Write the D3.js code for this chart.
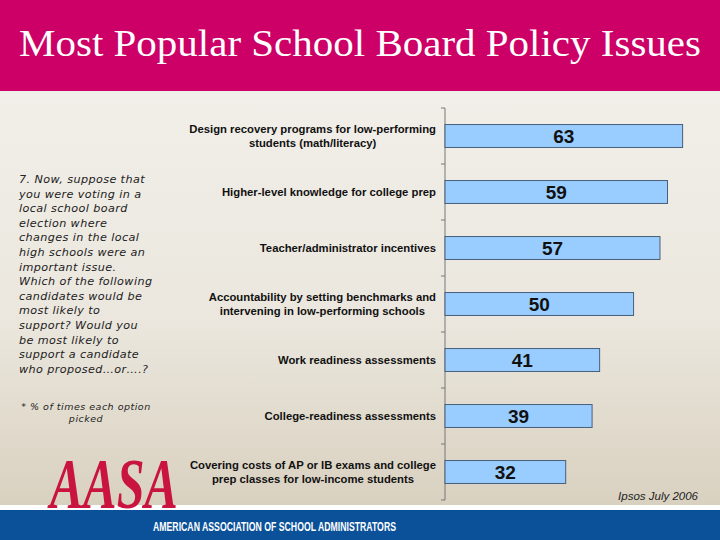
<!DOCTYPE html>
<html>
<head>
<meta charset="utf-8">
<script src="https://cdn.jsdelivr.net/npm/d3@7"></script>
<style>
  body { margin: 0; padding: 0; }
  svg { display: block; }
</style>
</head>
<body>
<div id="chart"></div>
<script>
var categories = [
  ["Design recovery programs for low-performing", "students (math/literacy)"],
  ["Higher-level knowledge for college prep"],
  ["Teacher/administrator incentives"],
  ["Accountability by setting benchmarks and", "intervening in low-performing schools"],
  ["Work readiness assessments"],
  ["College-readiness assessments"],
  ["Covering costs of AP or IB exams and college", "prep classes for low-income students"]
];
var values = [63, 59, 57, 50, 41, 39, 32];

var questionLines = [
  "7. Now, suppose that",
  "you were voting in a",
  "local school board",
  "election where",
  "changes in the local",
  "high schools were an",
  "important issue.",
  "Which of the following",
  "candidates would be",
  "most likely to",
  "support? Would you",
  "be most likely to",
  "support a candidate",
  "who proposed\u2026or\u2026.?"
];
var noteLines = ["* % of times each option", "picked"];

var W = 720, H = 540;
var svg = d3.select('#chart').append('svg')
  .attr('width', W).attr('height', H);

// background gradient
var defs = svg.append('defs');
var grad = defs.append('linearGradient').attr('id', 'bg')
  .attr('x1', 0).attr('y1', 0).attr('x2', 0).attr('y2', 1);
grad.append('stop').attr('offset', '0%').attr('stop-color', '#f1efe9');
grad.append('stop').attr('offset', '55%').attr('stop-color', '#ebe7de');
grad.append('stop').attr('offset', '100%').attr('stop-color', '#d9d1c0');

svg.append('rect').attr('x', 0).attr('y', 91).attr('width', W).attr('height', 414)
  .attr('fill', 'url(#bg)');
svg.append('rect').attr('x', 0).attr('y', 505).attr('width', W).attr('height', 5)
  .attr('fill', '#ffffff');
svg.append('rect').attr('x', 0).attr('y', 510).attr('width', W).attr('height', 30)
  .attr('fill', '#0b519a');

// title bar
svg.append('rect').attr('x', 0).attr('y', 0).attr('width', W).attr('height', 91)
  .attr('fill', '#cc0066');
svg.append('text')
  .attr('x', 19).attr('y', 56)
  .attr('font-family', '"Liberation Serif", "DejaVu Serif", serif')
  .attr('font-size', 37)
  .attr('fill', '#ffffff')
  .attr('textLength', 682)
  .attr('lengthAdjust', 'spacingAndGlyphs')
  .text('Most Popular School Board Policy Issues');

// scales
var x = d3.scaleLinear().domain([0, 70]).range([445, 709]);
var y = d3.scaleBand().domain(d3.range(values.length)).range([108, 500]).paddingInner(0.59).paddingOuter(0.295);

// axis line with ticks between categories
var axisG = svg.append('g');
axisG.append('line')
  .attr('x1', 445).attr('x2', 445).attr('y1', 108).attr('y2', 500)
  .attr('stroke', '#777').attr('stroke-width', 1);
var step = y.step();
var tickYs = d3.range(values.length + 1).map(function(i) { return 108 + i * step; });
axisG.selectAll('.tick').data(tickYs).enter().append('line')
  .attr('x1', 441).attr('x2', 445)
  .attr('y1', function(d) { return d; }).attr('y2', function(d) { return d; })
  .attr('stroke', '#777');

// bars
svg.selectAll('.bar').data(values).enter().append('rect')
  .attr('class', 'bar')
  .attr('x', x(0))
  .attr('y', function(d, i) { return y(i); })
  .attr('width', function(d) { return x(d) - x(0); })
  .attr('height', y.bandwidth())
  .attr('fill', '#99ccff')
  .attr('stroke', '#4a5f7a')
  .attr('stroke-width', 1);

svg.selectAll('.val').data(values).enter().append('text')
  .attr('x', function(d) { return (x(0) + x(d)) / 2; })
  .attr('y', function(d, i) { return y(i) + y.bandwidth() / 2 + 7; })
  .attr('text-anchor', 'middle')
  .attr('font-family', '"Liberation Sans", Arial, sans-serif')
  .attr('font-weight', 'bold')
  .attr('font-size', 19)
  .attr('fill', '#111')
  .text(function(d) { return d; });

// category labels
categories.forEach(function(lines, i) {
  var cy = y(i) + y.bandwidth() / 2;
  var t = svg.append('text')
    .attr('font-family', '"Liberation Sans", Arial, sans-serif')
    .attr('font-weight', 'bold')
    .attr('font-size', 11.3)
    .attr('fill', '#111');
  var spans = lines.map(function(l, j) {
    return t.append('tspan').attr('y', cy + 4 + (j - (lines.length - 1) / 2) * 13.5).text(l);
  });
  var maxW = d3.max(spans, function(s) { return s.node().getComputedTextLength(); });
  var cx = 436 - maxW / 2;
  spans.forEach(function(s) { s.attr('x', cx).attr('text-anchor', 'middle'); });
});

// question text
svg.append('g').selectAll('text').data(questionLines).enter().append('text')
  .attr('x', 19)
  .attr('y', function(d, i) { return 183 + i * 14.6; })
  .attr('font-family', '"DejaVu Sans", Verdana, sans-serif')
  .attr('font-style', 'italic')
  .attr('font-size', 11.2)
  .attr('letter-spacing', 0.4)
  .attr('fill', '#222')
  .text(function(d) { return d; });

svg.append('g').selectAll('text').data(noteLines).enter().append('text')
  .attr('x', 86)
  .attr('y', function(d, i) { return 410 + i * 12; })
  .attr('text-anchor', 'middle')
  .attr('font-family', '"DejaVu Sans", Verdana, sans-serif')
  .attr('font-style', 'italic')
  .attr('font-size', 9.5)
  .attr('letter-spacing', 0.5)
  .attr('fill', '#222')
  .text(function(d) { return d; });

// source
svg.append('text')
  .attr('x', 698).attr('y', 500)
  .attr('text-anchor', 'end')
  .attr('font-family', '"Liberation Sans", Arial, sans-serif')
  .attr('font-style', 'italic')
  .attr('font-size', 11.5)
  .attr('fill', '#222')
  .text('Ipsos July 2006');

// footer text
svg.append('text')
  .attr('x', 153).attr('y', 531)
  .attr('font-family', '"Liberation Sans Narrow", "Liberation Sans", Arial, sans-serif')
  .attr('font-size', 12.5)
  .attr('font-weight', 'bold')
  .attr('fill', '#ffffff')
  .attr('textLength', 243)
  .attr('lengthAdjust', 'spacingAndGlyphs')
  .text('AMERICAN ASSOCIATION OF SCHOOL ADMINISTRATORS');

// logo
svg.append('text')
  .attr('transform', 'translate(50,508) scale(1,1.45)')
  .attr('font-family', '"Liberation Serif", "DejaVu Serif", serif')
  .attr('font-weight', 'bold')
  .attr('font-style', 'italic')
  .attr('font-size', 50)
  .attr('fill', '#c8143f')
  .text('AASA');
</script>
</body>
</html>
